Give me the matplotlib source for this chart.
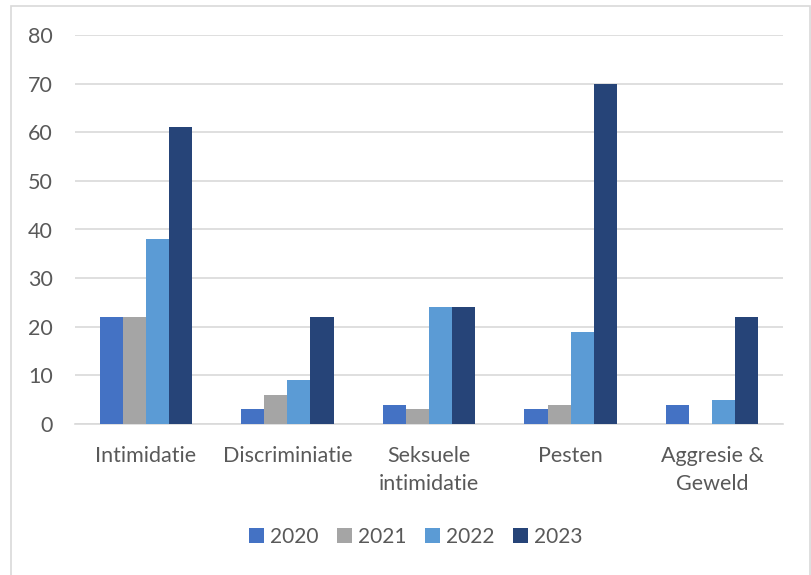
import matplotlib.pyplot as plt
import numpy as np
from matplotlib.patches import Rectangle

categories = ["Intimidatie", "Discriminiatie", "Seksuele\nintimidatie", "Pesten", "Aggresie &\nGeweld"]
years = ["2020", "2021", "2022", "2023"]
v2020 = [22, 3, 4, 3, 4]
v2021 = [22, 6, 3, 4, 0]
v2022 = [38, 9, 24, 19, 5]
v2023 = [61, 22, 24, 70, 22]
yticks = [0, 10, 20, 30, 40, 50, 60, 70, 80]

colors = ["#4472C4", "#A5A5A5", "#5B9BD5", "#264478"]
text_color = "#595959"

plt.rcParams["font.family"] = ["Lato", "DejaVu Sans"]

fig = plt.figure(figsize=(8.12, 5.75), dpi=100)
ax = fig.add_axes([75 / 812, 1 - 424 / 575, (783 - 75) / 812, (424 - 35) / 575])

x = np.arange(len(categories))
w = 0.163
series = [v2020, v2021, v2022, v2023]
for i, (vals, yr, c) in enumerate(zip(series, years, colors)):
    ax.bar(x + (i - 1.5) * w, vals, width=w, color=c, label=yr, linewidth=0, zorder=3)

ax.set_xlim(-0.5, len(categories) - 0.5)
ax.set_ylim(0, 80)
ax.set_yticks(yticks)
ax.yaxis.grid(True, color="#D9D9D9", linewidth=1.2, zorder=0)
ax.set_xticks(x)
ax.set_xticklabels(categories, linespacing=1.5)
ax.tick_params(axis="both", length=0, labelsize=15.5, colors=text_color)
ax.tick_params(axis="x", pad=16)
ax.tick_params(axis="y", pad=16)
for side in ("top", "right", "left"):
    ax.spines[side].set_visible(False)
ax.spines["bottom"].set_color("#D9D9D9")
ax.spines["bottom"].set_linewidth(1.2)

leg = fig.legend(loc="center", bbox_to_anchor=(416 / 812, 1 - 537 / 575), ncol=4,
                 frameon=False, fontsize=15, handlelength=0.7, handleheight=0.7,
                 handletextpad=0.3, columnspacing=0.9)
for t in leg.get_texts():
    t.set_color(text_color)

# chart area border
fig.patches.append(Rectangle((11 / 812, -0.01), (810 - 11) / 812, 1 - 6 / 575 + 0.01,
                             transform=fig.transFigure, fill=False,
                             edgecolor="#D9D9D9", linewidth=1.2))

fig.savefig("out.png", dpi=100)
